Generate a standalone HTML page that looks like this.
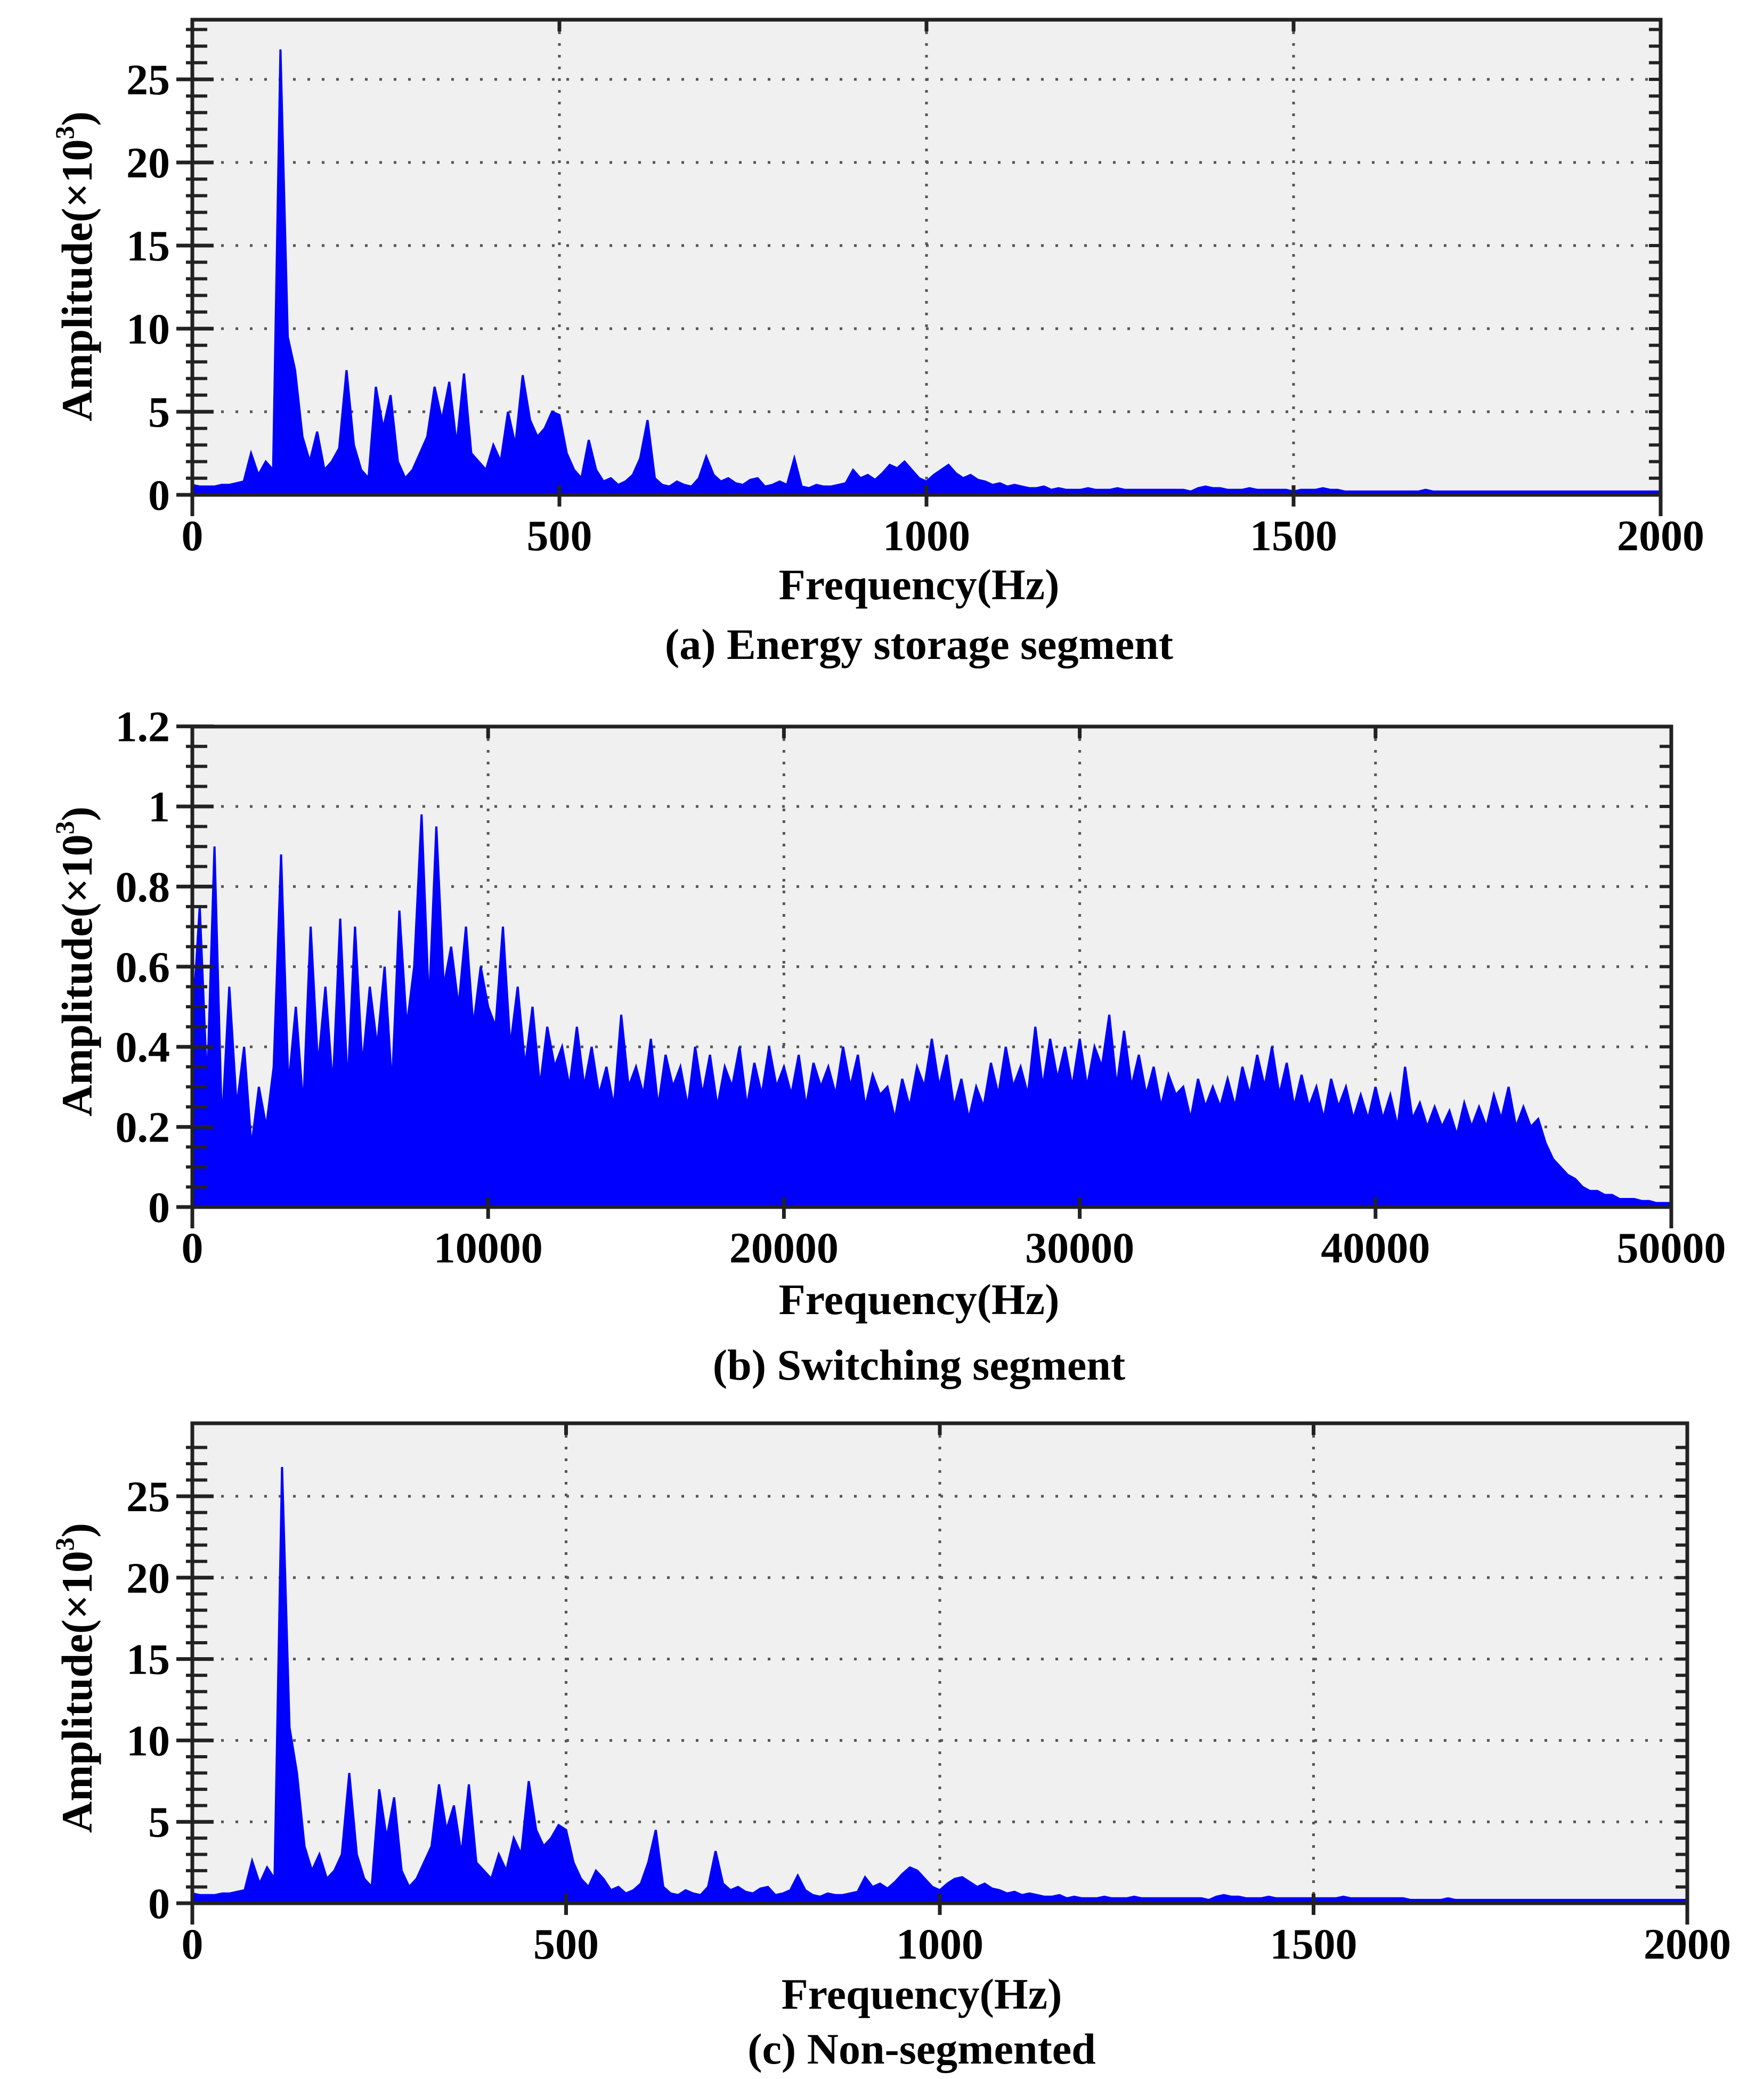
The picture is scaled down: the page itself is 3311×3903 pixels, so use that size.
<!DOCTYPE html>
<html><head><meta charset="utf-8"><style>
html,body{margin:0;padding:0;background:#fff;}
svg{display:block;}
text{font-family:"Liberation Serif",serif;font-weight:bold;fill:#000;}
</style></head><body>
<svg id="chart" width="3311" height="3903" viewBox="0 0 3311 3903" xmlns="http://www.w3.org/2000/svg"></svg>
<script>
// ---- data (a) Energy storage segment: amplitude (x10^3), 10 Hz step 0..2000 ----
const aStep = 10;
const aValues = [0.6,0.5,0.5,0.5,0.6,0.6,0.7,0.8,
2.5,1.2,2.0,1.5,
26.8,9.5,7.5,3.5,2.0,3.8,1.5,2.0,
2.8,7.5,3.0,1.5,1.0,6.5,4.0,6.0,2.0,1.0,
1.5,2.5,3.5,6.5,4.5,6.8,3.0,7.3,2.5,2.0,
1.5,3.0,2.0,5.0,3.0,7.2,4.5,3.5,4.0,5.0,
4.8,2.5,1.5,1.0,3.3,1.5,0.8,1.0,0.6,0.8,
1.2,2.2,4.5,1.0,0.6,0.5,0.8,0.6,0.5,1.0,
2.3,1.2,0.8,1.0,0.7,0.6,0.9,1.0,0.5,0.6,
0.8,0.6,2.2,0.5,0.4,0.6,0.5,0.5,0.6,0.7,
1.5,1.0,1.2,0.9,1.3,1.8,1.6,2.0,1.5,1.0,
0.8,1.2,1.5,1.8,1.3,1.0,1.2,0.9,0.8,0.6,
0.7,0.5,0.6,0.5,0.4,0.4,0.5,0.3,0.4,0.3,
0.3,0.3,0.4,0.3,0.3,0.3,0.4,0.3,0.3,0.3,
0.3,0.3,0.3,0.3,0.3,0.3,0.2,0.4,0.5,0.4,
0.4,0.3,0.3,0.3,0.4,0.3,0.3,0.3,0.3,0.3,
0.2,0.3,0.3,0.3,0.4,0.3,0.3,0.2,0.2,0.2,
0.2,0.2,0.2,0.2,0.2,0.2,0.2,0.2,0.3,0.2,
0.2,0.2,0.2,0.2,0.2,0.2,0.2,0.2,0.2,0.2,
0.2,0.2,0.2,0.2,0.2,0.2,0.2,0.2,0.2,0.2,
0.2,0.2,0.2,0.2,0.2,0.2,0.2,0.2,0.2,0.2,0.2];
const aXTicks = [0,500,1000,1500,2000];
const aYTicks = [0,5,10,15,20,25];

// ---- data (b) Switching segment: 250 Hz step 0..50000 ----
const bStep = 250;
const bValues = [0.45,0.75,0.3,0.9,0.2,0.55,0.25,0.4,0.15,0.3,
0.2,0.35,0.88,0.3,0.5,0.25,0.7,0.35,0.55,0.3,
0.72,0.3,0.7,0.35,0.55,0.4,0.6,0.3,0.74,0.45,
0.6,0.98,0.5,0.95,0.55,0.65,0.5,0.7,0.45,0.6,
0.5,0.45,0.7,0.4,0.55,0.35,0.5,0.3,0.45,0.35,
0.4,0.3,0.45,0.3,0.4,0.28,0.35,0.25,0.48,0.3,
0.35,0.28,0.42,0.25,0.38,0.3,0.35,0.25,0.4,0.28,
0.38,0.25,0.35,0.3,0.4,0.25,0.36,0.28,0.4,0.3,
0.35,0.28,0.38,0.25,0.36,0.3,0.35,0.28,0.4,0.3,
0.38,0.25,0.33,0.28,0.3,0.22,0.32,0.25,0.35,0.3,
0.42,0.3,0.38,0.25,0.32,0.22,0.3,0.25,0.36,0.28,
0.4,0.3,0.35,0.28,0.45,0.3,0.42,0.32,0.4,0.3,
0.42,0.3,0.4,0.35,0.48,0.3,0.44,0.3,0.38,0.28,
0.35,0.25,0.33,0.28,0.3,0.22,0.32,0.25,0.3,0.25,
0.32,0.25,0.35,0.28,0.38,0.3,0.4,0.28,0.36,0.25,
0.33,0.25,0.3,0.22,0.32,0.25,0.3,0.22,0.28,0.22,
0.3,0.22,0.28,0.2,0.35,0.22,0.26,0.2,0.25,0.2,
0.24,0.18,0.26,0.2,0.25,0.2,0.28,0.22,0.3,0.2,
0.25,0.2,0.22,0.16,0.12,0.1,0.08,0.07,0.05,0.04,
0.04,0.03,0.03,0.02,0.02,0.02,0.015,0.015,0.01,0.01,0.01];
const bXTicks = [0,10000,20000,30000,40000,50000];
const bYTicks = [0,0.2,0.4,0.6,0.8,1,1.2];

// ---- data (c) Non-segmented: 10 Hz step 0..2000 ----
const cStep = 10;
const cValues = [0.6,0.5,0.5,0.5,0.6,0.6,0.7,0.8,
2.6,1.2,2.2,1.5,
26.8,10.8,8.0,3.5,2.0,3.0,1.5,2.0,
3.0,8.0,3.0,1.5,1.0,7.0,4.0,6.5,2.0,1.0,
1.5,2.5,3.5,7.3,4.5,6.0,3.0,7.3,2.5,2.0,
1.5,3.0,2.0,4.0,3.0,7.5,4.5,3.5,4.0,4.8,
4.5,2.5,1.5,1.0,2.0,1.5,0.8,1.0,0.6,0.8,
1.2,2.5,4.5,1.0,0.6,0.5,0.8,0.6,0.5,1.0,
3.2,1.2,0.8,1.0,0.7,0.6,0.9,1.0,0.5,0.6,
0.8,1.7,0.8,0.5,0.4,0.6,0.5,0.5,0.6,0.7,
1.6,1.0,1.2,0.9,1.3,1.8,2.2,2.0,1.5,1.0,
0.8,1.2,1.5,1.6,1.3,1.0,1.2,0.9,0.8,0.6,
0.7,0.5,0.6,0.5,0.4,0.4,0.5,0.3,0.4,0.3,
0.3,0.3,0.4,0.3,0.3,0.3,0.4,0.3,0.3,0.3,
0.3,0.3,0.3,0.3,0.3,0.3,0.2,0.4,0.5,0.4,
0.4,0.3,0.3,0.3,0.4,0.3,0.3,0.3,0.3,0.3,
0.3,0.3,0.3,0.3,0.4,0.3,0.3,0.3,0.3,0.3,
0.3,0.3,0.3,0.2,0.2,0.2,0.2,0.2,0.3,0.2,
0.2,0.2,0.2,0.2,0.2,0.2,0.2,0.2,0.2,0.2,
0.2,0.2,0.2,0.2,0.2,0.2,0.2,0.2,0.2,0.2,
0.2,0.2,0.2,0.2,0.2,0.2,0.2,0.2,0.2,0.2,0.2];
const cXTicks = [0,500,1000,1500,2000];
const cYTicks = [0,5,10,15,20,25];

const NS = "http://www.w3.org/2000/svg";
const svg = document.getElementById('chart');
function mk(tag, attrs, parent){
  const e = document.createElementNS(NS, tag);
  for (const k in attrs) e.setAttribute(k, attrs[k]);
  (parent||svg).appendChild(e);
  return e;
}

function panel(key, cfg){
  const g = mk('g', {});
  
  
  const L=cfg.L, R=cfg.R, T=cfg.T, B=cfg.B;
  const xMax = cfg.xTicks[cfg.xTicks.length-1];
  const xs = v => L + (v / xMax) * (R - L);
  const ys = v => B - (v / cfg.yUnit) * cfg.yPx;

  const bg = mk('rect', {x:L, y:T, width:R-L, height:B-T, fill:'#f0f0f0'}, g);
  
  

  cfg.xTicks.forEach(t => {
    if (t===0 || t===xMax) return;
    const gl = mk('line', {x1:xs(t), x2:xs(t), y1:T, y2:B, stroke:'#555', 'stroke-width':5, 'stroke-dasharray':'5 17'}, g);
    
    
  });
  cfg.yTicks.forEach(t => {
    if (t===0) return;
    const gl = mk('line', {x1:L, x2:R, y1:ys(t), y2:ys(t), stroke:'#555', 'stroke-width':5, 'stroke-dasharray':'5 22'}, g);
    
    
  });

  let d = 'M' + xs(0) + ',' + B;
  cfg.values.forEach((v,i) => { d += ' L' + xs(i*cfg.step).toFixed(1) + ',' + ys(v).toFixed(1); });
  d += ' L' + xs(xMax) + ',' + B + ' Z';
  const p = mk('path', {d:d, fill:'#0000ff', stroke:'#0000ff', 'stroke-width':4, 'stroke-linejoin':'miter'}, g);
  
  

  const fr = mk('rect', {x:L, y:T, width:R-L, height:B-T, fill:'none', stroke:'#222', 'stroke-width':7}, g);
  
  

  for (let v=0; v<=cfg.yTop+1e-9; v+=cfg.yMinor){
    mk('line', {x1:L-12, x2:L+28, y1:ys(v), y2:ys(v), stroke:'#222', 'stroke-width':6}, g);
    mk('line', {x1:R-22, x2:R, y1:ys(v), y2:ys(v), stroke:'#222', 'stroke-width':6}, g);
  }
  cfg.yTicks.forEach(t => {
    mk('line', {x1:L-30, x2:L+40, y1:ys(t), y2:ys(t), stroke:'#222', 'stroke-width':7}, g);
    const tx = mk('text', {x:L-42, y:ys(t)+28, 'text-anchor':'end', 'font-size':82}, g);
    tx.textContent = String(t);
    
    
  });
  cfg.xTicks.forEach(t => {
    mk('line', {x1:xs(t), x2:xs(t), y1:B-18, y2:B+22, stroke:'#222', 'stroke-width':7}, g);
    mk('line', {x1:xs(t), x2:xs(t), y1:T, y2:T+22, stroke:'#222', 'stroke-width':7}, g);
    const tx = mk('text', {x:xs(t), y:B+104, 'text-anchor':'middle', 'font-size':82}, g);
    tx.textContent = String(t);
    
    
  });
  mk('line', {x1:L, x2:L, y1:B, y2:B+40, stroke:'#222', 'stroke-width':7}, g);
  mk('line', {x1:R, x2:R, y1:B, y2:B+40, stroke:'#222', 'stroke-width':7}, g);

  const xt = mk('text', {x:cfg.xTitleX, y:cfg.xTitleY, 'text-anchor':'middle', 'font-size':82}, g);
  xt.textContent = 'Frequency(Hz)';
  
  

  const yt = mk('text', {x:0, y:0, 'text-anchor':'middle', 'font-size':82, transform:'translate(' + (cfg.yTitleX) + ',' + cfg.yTitleY + ') rotate(-90)'}, g);
  
  
  const s1 = mk('tspan', {}, yt); s1.textContent = 'Amplitude(×10';
  const s2 = mk('tspan', {'font-size':50, dy:-34}, yt); s2.textContent = '3';
  const s3 = mk('tspan', {dy:34}, yt); s3.textContent = ')';

  const cap = mk('text', {x:cfg.xTitleX, y:cfg.capY, 'text-anchor':'middle', 'font-size':82}, g);
  cap.textContent = cfg.caption;
  
  
}

panel('a', {L:361, R:3117, T:37, B:929, yUnit:25, yPx:780, yTop:28, yMinor:1,
  values:aValues, step:aStep, xTicks:aXTicks, yTicks:aYTicks,
  xTitleX:1725, xTitleY:1125, capY:1237, yTitleX:172, yTitleY:500, caption:'(a) Energy storage segment'});
panel('b', {L:361, R:3137, T:1364, B:2266, yUnit:1, yPx:752, yTop:1.2, yMinor:0.05,
  values:bValues, step:bStep, xTicks:bXTicks, yTicks:bYTicks,
  xTitleX:1725, xTitleY:2467, capY:2590, yTitleX:172, yTitleY:1805, caption:'(b) Switching segment'});
panel('c', {L:361, R:3167, T:2672, B:3573, yUnit:25, yPx:764, yTop:28.5, yMinor:1,
  values:cValues, step:cStep, xTicks:cXTicks, yTicks:cYTicks,
  xTitleX:1730, xTitleY:3771, capY:3874, yTitleX:172, yTitleY:3150, caption:'(c)  Non-segmented'});
</script>
</body></html>
